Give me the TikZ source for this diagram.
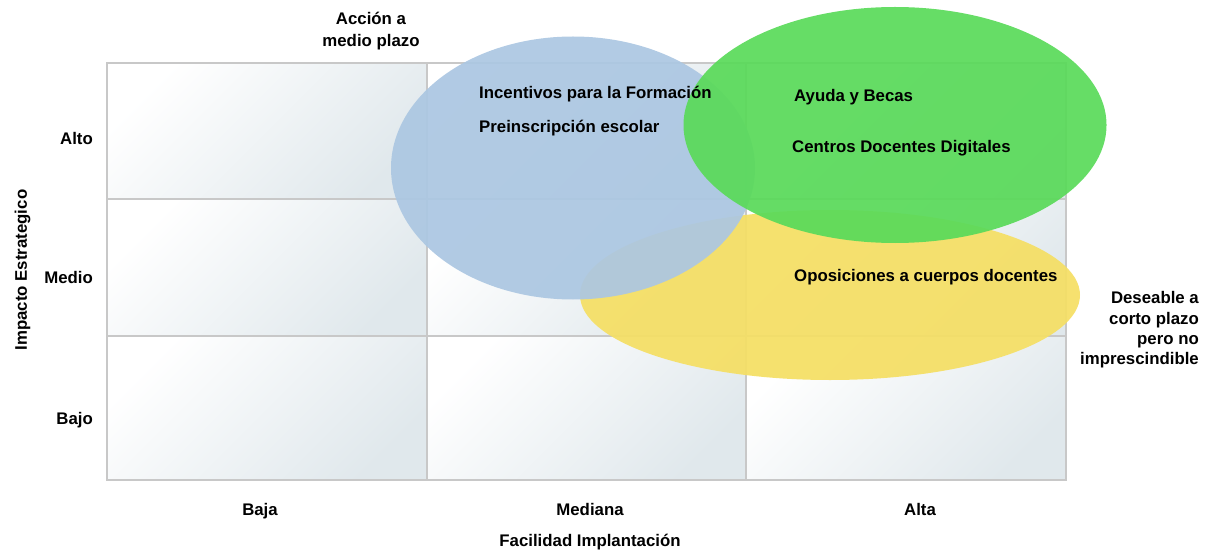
\documentclass[tikz,border=0pt]{standalone}
\usepackage{fontspec}
\setmainfont{Liberation Sans}
\usetikzlibrary{shapes.geometric}
\definecolor{gridgray}{RGB}{200,200,200}
\definecolor{cellend}{RGB}{224,232,236}
\definecolor{cellmid}{RGB}{240,244,246}
\definecolor{bubblue}{RGB}{172,199,226}
\definecolor{bubgreen}{RGB}{90,218,90}
\definecolor{bubyellow}{RGB}{245,223,100}
\tikzset{
  cellshade/.style={top color=white, middle color=cellmid, bottom color=cellend, shading angle=45},
  gridline/.style={draw=gridgray, line width=2.5pt},
  bubble/.style={ellipse, inner sep=0pt, draw=none, fill opacity=0.93},
  lbl/.style={font=\bfseries\fontsize{16.8}{20}\selectfont, text=black, inner sep=0pt},
}
\begin{document}
\begin{tikzpicture}[x=1pt,y=-1pt]
\useasboundingbox (0,0) rectangle (1206,553);
% cells
\foreach \xa/\xb in {107/427,427/746,746/1066}{
  \foreach \ya/\yb in {63/199,199/336,336/480}{
    \shade[cellshade] (\xa,\ya) rectangle (\xb,\yb);
  }
}
\draw[gridline] (107,63) rectangle (1066,480);
\draw[gridline] (427,63) -- (427,480);
\draw[gridline] (746,63) -- (746,480);
\draw[gridline] (107,199) -- (1066,199);
\draw[gridline] (107,336) -- (1066,336);
% bubbles
\node[bubble, fill=bubyellow, minimum width=500pt, minimum height=170pt] (yel) at (830,295) {};
\node[bubble, fill=bubblue, minimum width=364pt, minimum height=263pt] (blu) at (573,168) {};
\node[bubble, fill=bubgreen, minimum width=423pt, minimum height=236pt] (grn) at (895,125) {};
% bubble texts
\node[lbl, anchor=base west] (t1) at (479,99) {Incentivos para la Formación};
\node[lbl, anchor=base west] (t2) at (479,133) {Preinscripción escolar};
\node[lbl, anchor=base west] (t3) at (794,102) {Ayuda y Becas};
\node[lbl, anchor=base west] (t4) at (792,153) {Centros Docentes Digitales};
\node[lbl, anchor=base west] (t5) at (794,281) {Oposiciones a cuerpos docentes};
% axis labels
\node[lbl, anchor=base east] (alto) at (93,145) {Alto};
\node[lbl, anchor=base east] (medio) at (93,283) {Medio};
\node[lbl, anchor=base east] (bajo) at (93,424) {Bajo};
\node[lbl, anchor=base] (baja) at (260,515) {Baja};
\node[lbl, anchor=base] (mediana) at (590,515) {Mediana};
\node[lbl, anchor=base] (alta) at (920,515) {Alta};
\node[lbl, anchor=base] (xaxis) at (590,546) {Facilidad Implantación};
\node[lbl, rotate=90, anchor=base] (yaxis) at (27,270) {Impacto Estrategico};
\node[lbl, anchor=base] (acc1) at (371,25) {Acción a};
\node[lbl, anchor=base] (acc2) at (371,47) {medio plazo};
\node[lbl, anchor=base east] (d1) at (1199,303) {Deseable a};
\node[lbl, anchor=base east] (d2) at (1199,324) {corto plazo};
\node[lbl, anchor=base east] (d3) at (1199,344) {pero no};
\node[lbl, anchor=base east] (d4) at (1199,364) {imprescindible};
\end{tikzpicture}
\end{document}
